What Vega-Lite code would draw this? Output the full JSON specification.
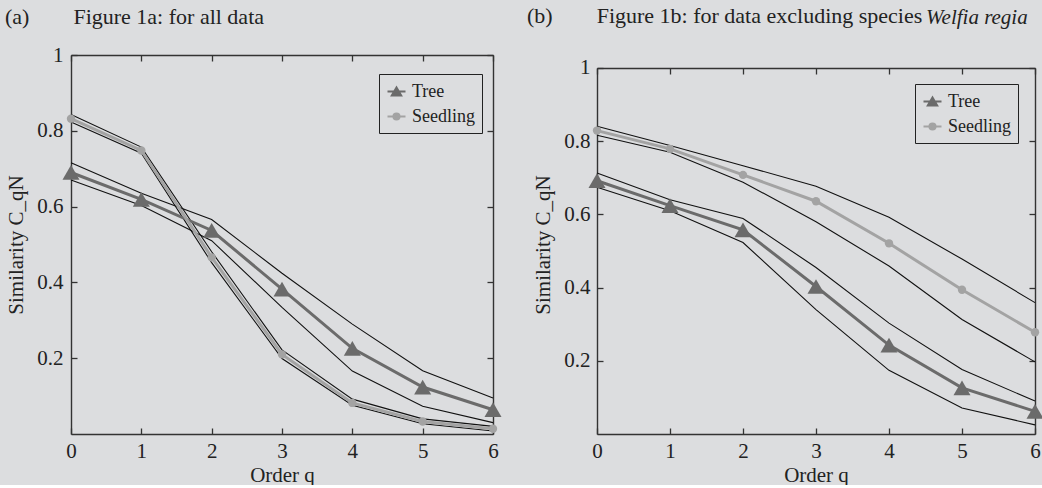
{
  "$schema": "https://vega.github.io/schema/vega-lite/v6.json",
  "background": "#dcdddf",
  "padding": {"left": 5, "top": 5, "right": 0, "bottom": 0},
  "spacing": 25,
  "resolve": {"scale": {"color": "independent"}, "legend": {"color": "independent"}},
  "config": {
    "view": {"stroke": null},
    "font": "Liberation Serif",
    "axis": {
      "labelFont": "Liberation Serif",
      "titleFont": "Liberation Serif",
      "labelFontSize": 21,
      "titleFontSize": 21,
      "titleFontWeight": "normal",
      "labelColor": "#222222",
      "titleColor": "#222222",
      "domainColor": "#333333",
      "tickColor": "#333333",
      "domainWidth": 1.4,
      "tickWidth": 1.3,
      "grid": false,
      "tickSize": -6,
      "labelFlush": false
    },
    "legend": {
      "labelFont": "Liberation Serif",
      "labelFontSize": 18,
      "labelColor": "#222222"
    }
  },
  "data": {
    "values": [
      {"panel": "a", "series": "Tree", "q": 0, "value": 0.69, "lower": 0.67, "upper": 0.716},
      {"panel": "a", "series": "Tree", "q": 1, "value": 0.619, "lower": 0.603, "upper": 0.635},
      {"panel": "a", "series": "Tree", "q": 2, "value": 0.537, "lower": 0.51, "upper": 0.566},
      {"panel": "a", "series": "Tree", "q": 3, "value": 0.382, "lower": 0.334, "upper": 0.424},
      {"panel": "a", "series": "Tree", "q": 4, "value": 0.226, "lower": 0.166, "upper": 0.29},
      {"panel": "a", "series": "Tree", "q": 5, "value": 0.124, "lower": 0.073, "upper": 0.167},
      {"panel": "a", "series": "Tree", "q": 6, "value": 0.064, "lower": 0.03, "upper": 0.095},
      {"panel": "a", "series": "Seedling", "q": 0, "value": 0.832, "lower": 0.823, "upper": 0.843},
      {"panel": "a", "series": "Seedling", "q": 1, "value": 0.748, "lower": 0.741, "upper": 0.757},
      {"panel": "a", "series": "Seedling", "q": 2, "value": 0.466, "lower": 0.452, "upper": 0.481},
      {"panel": "a", "series": "Seedling", "q": 3, "value": 0.21, "lower": 0.199, "upper": 0.222},
      {"panel": "a", "series": "Seedling", "q": 4, "value": 0.082, "lower": 0.076, "upper": 0.092},
      {"panel": "a", "series": "Seedling", "q": 5, "value": 0.033, "lower": 0.027, "upper": 0.04},
      {"panel": "a", "series": "Seedling", "q": 6, "value": 0.014, "lower": 0.008, "upper": 0.02},
      {"panel": "b", "series": "Tree", "q": 0, "value": 0.692, "lower": 0.674, "upper": 0.713},
      {"panel": "b", "series": "Tree", "q": 1, "value": 0.624, "lower": 0.61, "upper": 0.64},
      {"panel": "b", "series": "Tree", "q": 2, "value": 0.558, "lower": 0.523, "upper": 0.589},
      {"panel": "b", "series": "Tree", "q": 3, "value": 0.403, "lower": 0.34, "upper": 0.455},
      {"panel": "b", "series": "Tree", "q": 4, "value": 0.243, "lower": 0.174, "upper": 0.303},
      {"panel": "b", "series": "Tree", "q": 5, "value": 0.126, "lower": 0.071, "upper": 0.176},
      {"panel": "b", "series": "Tree", "q": 6, "value": 0.062, "lower": 0.025, "upper": 0.09},
      {"panel": "b", "series": "Seedling", "q": 0, "value": 0.829, "lower": 0.816, "upper": 0.841},
      {"panel": "b", "series": "Seedling", "q": 1, "value": 0.779, "lower": 0.77, "upper": 0.788},
      {"panel": "b", "series": "Seedling", "q": 2, "value": 0.708, "lower": 0.688, "upper": 0.733},
      {"panel": "b", "series": "Seedling", "q": 3, "value": 0.636, "lower": 0.58, "upper": 0.677},
      {"panel": "b", "series": "Seedling", "q": 4, "value": 0.521, "lower": 0.459, "upper": 0.592},
      {"panel": "b", "series": "Seedling", "q": 5, "value": 0.394, "lower": 0.313, "upper": 0.478},
      {"panel": "b", "series": "Seedling", "q": 6, "value": 0.278, "lower": 0.197, "upper": 0.359}
    ]
  },
  "hconcat": [
    {
      "width": 422,
      "height": 379,
      "title": {
        "text": "(a)\u00a0\u00a0\u00a0\u00a0\u00a0\u00a0\u00a0\u00a0Figure 1a: for all data",
        "anchor": "start",
        "frame": "group",
        "dx": -66,
        "offset": 15,
        "font": "Liberation Serif",
        "fontSize": 22,
        "fontWeight": "normal",
        "color": "#222222"
      },
      "transform": [{"filter": "datum.panel === 'a'"}],
      "layer": [
        {
          "mark": {"type": "line", "color": "#111111", "strokeWidth": 1.1},
          "encoding": {
            "x": {"field": "q", "type": "quantitative", "scale": {"domain": [0, 6], "nice": false},
                  "axis": {"orient": "bottom", "title": "Order q", "values": [0, 1, 2, 3, 4, 5, 6], "format": "d", "labelPadding": 12, "titlePadding": 3}},
            "y": {"field": "upper", "type": "quantitative", "scale": {"domain": [0, 1], "nice": false},
                  "axis": {"orient": "left", "title": "Similarity C_qN", "values": [0.2, 0.4, 0.6, 0.8, 1], "format": "~g", "labelPadding": 14, "titlePadding": 10}},
            "detail": {"field": "series"}
          }
        },
        {
          "mark": {"type": "line", "color": "#111111", "strokeWidth": 1.1},
          "encoding": {
            "x": {"field": "q", "type": "quantitative", "scale": {"domain": [0, 6], "nice": false},
                  "axis": {"orient": "top", "title": null, "labels": false, "values": [0, 1, 2, 3, 4, 5, 6]}},
            "y": {"field": "lower", "type": "quantitative", "scale": {"domain": [0, 1], "nice": false},
                  "axis": {"orient": "right", "title": null, "labels": false, "values": [0.2, 0.4, 0.6, 0.8, 1]}},
            "detail": {"field": "series"}
          }
        },
        {
          "mark": {"type": "line", "strokeWidth": 3},
          "encoding": {
            "x": {"field": "q", "type": "quantitative", "axis": null},
            "y": {"field": "value", "type": "quantitative", "axis": null},
            "color": {"field": "series", "type": "nominal",
                      "scale": {"domain": ["Tree", "Seedling"], "range": ["#6b6b6b", "#a3a3a3"]},
                      "legend": {
                        "title": null, "orient": "none", "legendX": 308, "legendY": 19,
                        "fillColor": "#dcdddf", "strokeColor": "#222222", "padding": 7,
                        "rowPadding": 5, "labelOffset": 5, "symbolSize": 324, "labelFontSize": 18,
                        "encode": {"symbols": {"update": {
                          "shape": {"signal": "datum.value === 'Tree' ? 'M-1,0H1M-0.5,0.42L0,-0.42L0.5,0.42Z' : 'M-1,0H1M-0.33,0A0.33,0.33,0,1,1,0.33,0A0.33,0.33,0,1,1,-0.33,0Z'"},
                          "fill": {"signal": "datum.value === 'Tree' ? '#6b6b6b' : '#a3a3a3'"},
                          "stroke": {"signal": "datum.value === 'Tree' ? '#6b6b6b' : '#a3a3a3'"},
                          "strokeWidth": {"value": 2.2},
                          "opacity": {"value": 1}
                        }}}
                      }}
          }
        },
        {
          "mark": {"type": "point", "filled": true, "opacity": 1},
          "encoding": {
            "x": {"field": "q", "type": "quantitative", "axis": null},
            "y": {"field": "value", "type": "quantitative", "axis": null},
            "color": {"field": "series", "type": "nominal", "legend": null},
            "shape": {"condition": {"test": "datum.series === 'Tree'", "value": "triangle-up"}, "value": "circle"},
            "size": {"condition": {"test": "datum.series === 'Tree'", "value": 290}, "value": 70}
          }
        }
      ],
      "resolve": {"axis": {"x": "independent", "y": "independent"}}
    },
    {
      "width": 438,
      "height": 379,
      "title": {
        "text": "(b)\u00a0\u00a0\u00a0\u00a0\u00a0\u00a0\u00a0\u00a0Figure 1b: for data excluding species",
        "subtitle": "\u200b\u00a0\u00a0\u00a0\u00a0\u00a0\u00a0\u00a0\u00a0\u00a0\u00a0\u00a0\u00a0\u00a0\u00a0\u00a0\u00a0\u00a0\u00a0\u00a0\u00a0\u00a0\u00a0\u00a0\u00a0\u00a0\u00a0\u00a0\u00a0\u00a0\u00a0\u00a0\u00a0\u00a0\u00a0\u00a0\u00a0\u00a0\u00a0\u00a0\u00a0\u00a0\u00a0\u00a0\u00a0\u00a0\u00a0\u00a0\u00a0\u00a0\u00a0\u00a0\u00a0\u00a0\u00a0\u00a0\u00a0\u00a0\u00a0\u00a0\u00a0\u00a0\u00a0\u00a0\u00a0\u00a0\u00a0\u00a0\u00a0\u00a0\u00a0\u00a0\u00a0\u00a0\u00a0\u00a0\u00a0Welfia regia",
        "subtitleFont": "Liberation Serif",
        "subtitleFontSize": 21,
        "subtitleFontStyle": "italic",
        "subtitleColor": "#222222",
        "subtitlePadding": -21,
        "anchor": "start",
        "frame": "group",
        "dx": -70,
        "offset": 26,
        "font": "Liberation Serif",
        "fontSize": 22,
        "fontWeight": "normal",
        "color": "#222222"
      },
      "transform": [{"filter": "datum.panel === 'b'"}],
      "layer": [
        {
          "mark": {"type": "line", "color": "#111111", "strokeWidth": 1.1},
          "encoding": {
            "x": {"field": "q", "type": "quantitative", "scale": {"domain": [0, 6], "nice": false},
                  "axis": {"orient": "bottom", "title": "Order q", "values": [0, 1, 2, 3, 4, 5, 6], "format": "d", "labelPadding": 12, "titlePadding": 3}},
            "y": {"field": "upper", "type": "quantitative", "scale": {"domain": [0, 1.0355], "nice": false},
                  "axis": {"orient": "left", "title": "Similarity C_qN", "values": [0.2, 0.4, 0.6, 0.8, 1], "format": "~g", "labelPadding": 13, "titlePadding": 10, "domainDash": [366, 40]}},
            "detail": {"field": "series"}
          }
        },
        {
          "mark": {"type": "line", "color": "#111111", "strokeWidth": 1.1},
          "encoding": {
            "x": {"field": "q", "type": "quantitative", "scale": {"domain": [0, 6], "nice": false},
                  "axis": {"orient": "top", "title": null, "labels": false, "values": [0, 1, 2, 3, 4, 5, 6], "offset": -13}},
            "y": {"field": "lower", "type": "quantitative", "scale": {"domain": [0, 1.0355], "nice": false},
                  "axis": {"orient": "right", "title": null, "labels": false, "values": [0.2, 0.4, 0.6, 0.8, 1], "domainDash": [366, 40]}},
            "detail": {"field": "series"}
          }
        },
        {
          "mark": {"type": "line", "strokeWidth": 3},
          "encoding": {
            "x": {"field": "q", "type": "quantitative", "axis": null},
            "y": {"field": "value", "type": "quantitative", "axis": null},
            "color": {"field": "series", "type": "nominal",
                      "scale": {"domain": ["Tree", "Seedling"], "range": ["#6b6b6b", "#a3a3a3"]},
                      "legend": {
                        "title": null, "orient": "none", "legendX": 318, "legendY": 29,
                        "fillColor": "#dcdddf", "strokeColor": "#222222", "padding": 7,
                        "rowPadding": 5, "labelOffset": 5, "symbolSize": 324, "labelFontSize": 18,
                        "encode": {"symbols": {"update": {
                          "shape": {"signal": "datum.value === 'Tree' ? 'M-1,0H1M-0.5,0.42L0,-0.42L0.5,0.42Z' : 'M-1,0H1M-0.33,0A0.33,0.33,0,1,1,0.33,0A0.33,0.33,0,1,1,-0.33,0Z'"},
                          "fill": {"signal": "datum.value === 'Tree' ? '#6b6b6b' : '#a3a3a3'"},
                          "stroke": {"signal": "datum.value === 'Tree' ? '#6b6b6b' : '#a3a3a3'"},
                          "strokeWidth": {"value": 2.2},
                          "opacity": {"value": 1}
                        }}}
                      }}
          }
        },
        {
          "mark": {"type": "point", "filled": true, "opacity": 1},
          "encoding": {
            "x": {"field": "q", "type": "quantitative", "axis": null},
            "y": {"field": "value", "type": "quantitative", "axis": null},
            "color": {"field": "series", "type": "nominal", "legend": null},
            "shape": {"condition": {"test": "datum.series === 'Tree'", "value": "triangle-up"}, "value": "circle"},
            "size": {"condition": {"test": "datum.series === 'Tree'", "value": 290}, "value": 70}
          }
        }
      ],
      "resolve": {"axis": {"x": "independent", "y": "independent"}}
    }
  ]
}
